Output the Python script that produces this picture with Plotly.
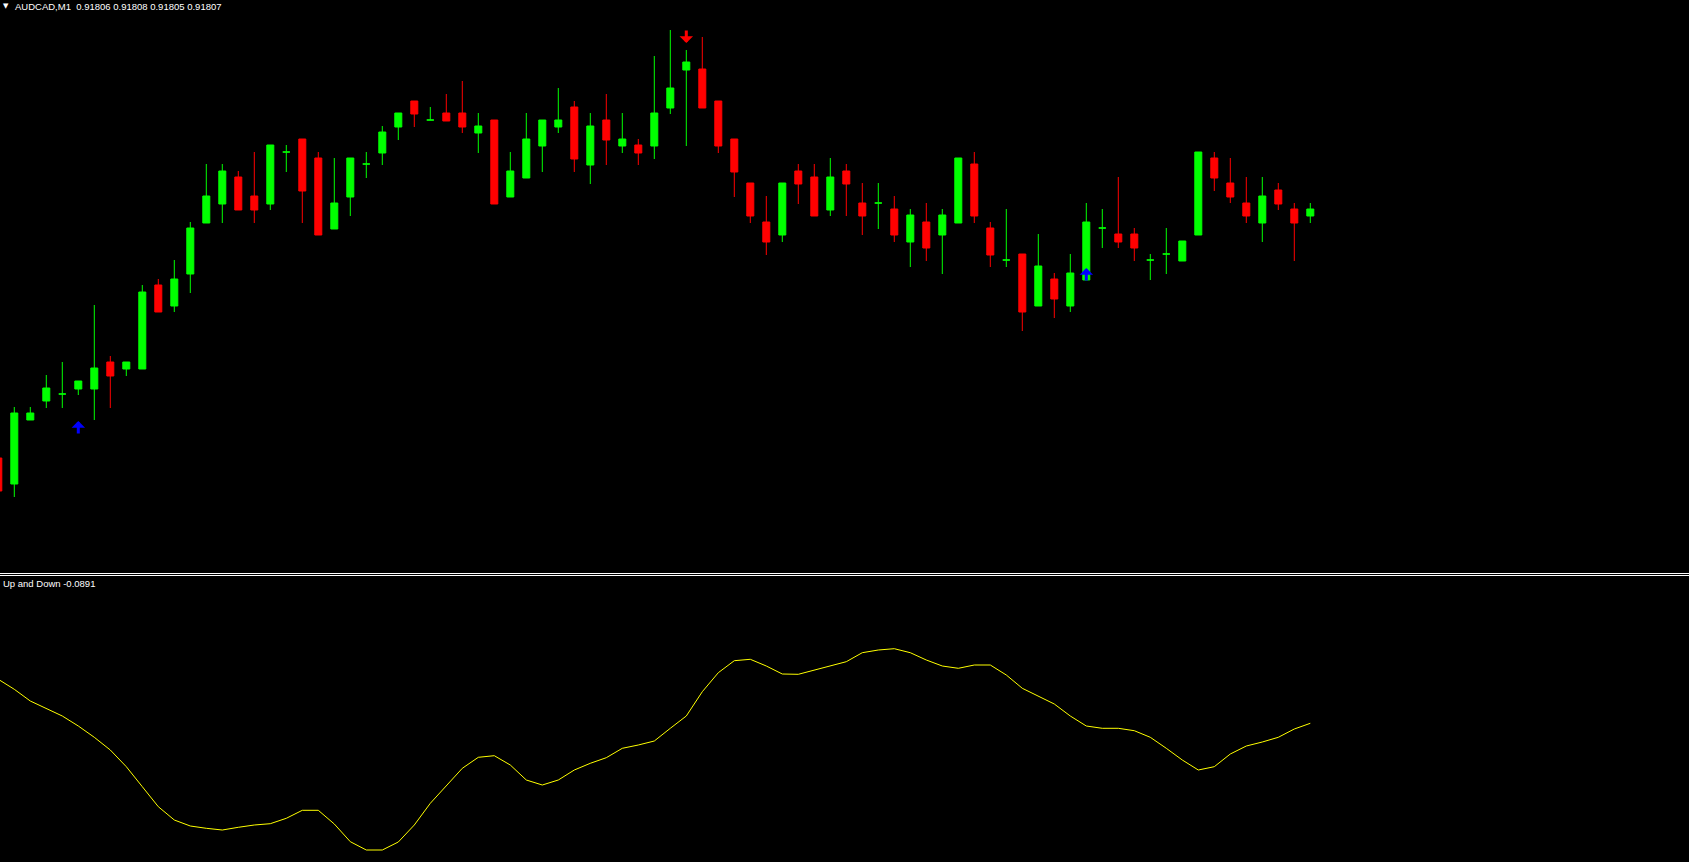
"""
AUDCAD M1 candles with buy/sell arrows and the "Up and Down" oscillator, MT4 style.
"""

import pandas as pd
import plotly.graph_objects as go

W, H = 1689, 862

symbol = "AUDCAD,M1"
last_bar = [0.91806, 0.91808, 0.91805, 0.91807]   # header O H L C
indicator_name = "Up and Down"

bar_index = list(range(-1, 82))

opens = [
    0.91558, 0.91532, 0.91596, 0.91615, 0.91622, 0.91627, 0.91627, 0.91654, 0.91647, 0.91647,
    0.91731, 0.91710, 0.91742, 0.91793, 0.91812, 0.91839, 0.91820, 0.91812, 0.91864, 0.91877,
    0.91858, 0.91787, 0.91819, 0.91852, 0.91863, 0.91889, 0.91915, 0.91896, 0.91903, 0.91903,
    0.91883, 0.91896, 0.91819, 0.91838, 0.91870, 0.91889, 0.91909, 0.91851, 0.91896, 0.91870,
    0.91871, 0.91870, 0.91908, 0.91946, 0.91947, 0.91915, 0.91877, 0.91833, 0.91794, 0.91781,
    0.91845, 0.91839, 0.91806, 0.91845, 0.91813, 0.91813, 0.91807, 0.91774, 0.91794, 0.91781,
    0.91793, 0.91852, 0.91788, 0.91756, 0.91762, 0.91710, 0.91737, 0.91710, 0.91736, 0.91788,
    0.91782, 0.91782, 0.91756, 0.91762, 0.91755, 0.91781, 0.91858, 0.91833, 0.91813, 0.91793,
    0.91826, 0.91807, 0.91800,
]
highs = [
    0.91560, 0.91609, 0.91609, 0.91641, 0.91654, 0.91635, 0.91711, 0.91660, 0.91654, 0.91731,
    0.91737, 0.91756, 0.91794, 0.91852, 0.91852, 0.91845, 0.91864, 0.91871, 0.91871, 0.91877,
    0.91864, 0.91858, 0.91858, 0.91864, 0.91890, 0.91903, 0.91915, 0.91909, 0.91922, 0.91935,
    0.91903, 0.91896, 0.91864, 0.91903, 0.91896, 0.91928, 0.91915, 0.91903, 0.91922, 0.91903,
    0.91877, 0.91960, 0.91986, 0.91966, 0.91979, 0.91915, 0.91877, 0.91833, 0.91820, 0.91833,
    0.91852, 0.91852, 0.91858, 0.91852, 0.91833, 0.91833, 0.91820, 0.91807, 0.91813, 0.91807,
    0.91858, 0.91864, 0.91794, 0.91807, 0.91762, 0.91782, 0.91743, 0.91762, 0.91813, 0.91807,
    0.91839, 0.91788, 0.91762, 0.91788, 0.91775, 0.91864, 0.91864, 0.91858, 0.91839, 0.91839,
    0.91833, 0.91813, 0.91813,
]
lows = [
    0.91523, 0.91519, 0.91596, 0.91608, 0.91608, 0.91621, 0.91596, 0.91608, 0.91640, 0.91647,
    0.91704, 0.91704, 0.91723, 0.91793, 0.91793, 0.91806, 0.91793, 0.91806, 0.91844, 0.91793,
    0.91781, 0.91787, 0.91800, 0.91838, 0.91851, 0.91876, 0.91889, 0.91896, 0.91895, 0.91883,
    0.91863, 0.91812, 0.91819, 0.91838, 0.91844, 0.91883, 0.91844, 0.91832, 0.91851, 0.91863,
    0.91851, 0.91857, 0.91902, 0.91870, 0.91908, 0.91863, 0.91819, 0.91793, 0.91761, 0.91774,
    0.91812, 0.91800, 0.91800, 0.91800, 0.91781, 0.91787, 0.91774, 0.91749, 0.91755, 0.91742,
    0.91793, 0.91793, 0.91749, 0.91749, 0.91685, 0.91710, 0.91698, 0.91704, 0.91736, 0.91768,
    0.91768, 0.91755, 0.91736, 0.91742, 0.91755, 0.91781, 0.91825, 0.91813, 0.91793, 0.91774,
    0.91806, 0.91755, 0.91793,
]
closes = [
    0.91525, 0.91603, 0.91603, 0.91628, 0.91622, 0.91635, 0.91648, 0.91640, 0.91654, 0.91724,
    0.91704, 0.91737, 0.91788, 0.91820, 0.91845, 0.91806, 0.91806, 0.91871, 0.91864, 0.91825,
    0.91781, 0.91813, 0.91858, 0.91852, 0.91884, 0.91903, 0.91902, 0.91896, 0.91895, 0.91889,
    0.91890, 0.91812, 0.91845, 0.91877, 0.91896, 0.91896, 0.91857, 0.91890, 0.91876, 0.91877,
    0.91863, 0.91903, 0.91928, 0.91954, 0.91908, 0.91870, 0.91844, 0.91800, 0.91774, 0.91833,
    0.91832, 0.91800, 0.91839, 0.91832, 0.91800, 0.91813, 0.91781, 0.91801, 0.91768, 0.91801,
    0.91858, 0.91800, 0.91761, 0.91756, 0.91704, 0.91750, 0.91717, 0.91743, 0.91794, 0.91788,
    0.91774, 0.91768, 0.91756, 0.91762, 0.91775, 0.91864, 0.91838, 0.91819, 0.91800, 0.91820,
    0.91812, 0.91793, 0.91807,
]

# oscillator value per bar
updown = [
    -0.0451, -0.0551, -0.0668, -0.0741, -0.0818, -0.0918, -0.1031, -0.1158, -0.1325, -0.1525,
    -0.1725, -0.1858, -0.1918, -0.1941, -0.1958, -0.1931, -0.1908, -0.1895, -0.1841, -0.1761,
    -0.1761, -0.1898, -0.2075, -0.2158, -0.2158, -0.2078, -0.1908, -0.1691, -0.1518, -0.1341,
    -0.1231, -0.1215, -0.1308, -0.1458, -0.1508, -0.1458, -0.1358, -0.1291, -0.1235, -0.1141,
    -0.1108, -0.1068, -0.0941, -0.0818, -0.0575, -0.0385, -0.0265, -0.0251, -0.0318, -0.0398,
    -0.0401, -0.0358, -0.0318, -0.0275, -0.0185, -0.0158, -0.0145, -0.0185, -0.0258, -0.0318,
    -0.0341, -0.0308, -0.0308, -0.0408, -0.0541, -0.0618, -0.0698, -0.0818, -0.0918, -0.0941,
    -0.0941, -0.0965, -0.1031, -0.1141, -0.1258, -0.1358, -0.1325, -0.1198, -0.1118, -0.1078,
    -0.1031, -0.0948, -0.0891,
]

buy_bars = [4, 67]
buy_levels = [0.91595, 0.91748]
sell_bars = [42]
sell_levels = [0.91973]

BULL = "#00FF00"
BEAR = "#FF0000"

df = pd.DataFrame(dict(bar=bar_index, open=opens, high=highs, low=lows, close=closes))
doji = df[df.open == df.close]
body = df[df.open != df.close]

fig = go.Figure()

# ── candles ───────────────────────────────────────────────────────────────
fig.add_trace(go.Candlestick(
    x=body.bar, open=body.open, high=body.high, low=body.low, close=body.close,
    increasing=dict(line=dict(color=BULL, width=1), fillcolor=BULL),
    decreasing=dict(line=dict(color=BEAR, width=1), fillcolor=BEAR),
    hoverinfo="skip",
))
# open == close bars are drawn in the bull colour, like the terminal does
fig.add_trace(go.Candlestick(
    x=doji.bar, open=doji.open, high=doji.high, low=doji.low, close=doji.close,
    increasing=dict(line=dict(color=BULL, width=1), fillcolor=BULL),
    decreasing=dict(line=dict(color=BULL, width=1), fillcolor=BULL),
    hoverinfo="skip",
))

# ── oscillator pane ───────────────────────────────────────────────────────
fig.add_trace(go.Scatter(
    x=bar_index, y=updown, mode="lines",
    line=dict(color="#FFFF00", width=1),
    xaxis="x2", yaxis="y2", hoverinfo="skip",
))

# ── signal arrows ─────────────────────────────────────────────────────────
arrow = dict(xref="x", yref="y", text="", showarrow=True, ax=0,
             arrowhead=1, arrowsize=0.75, arrowwidth=3)
for b, lvl in zip(buy_bars, buy_levels):
    fig.add_annotation(x=b, y=lvl, ay=14, arrowcolor="#0000FF", **arrow)
for b, lvl in zip(sell_bars, sell_levels):
    fig.add_annotation(x=b, y=lvl, ay=-14, arrowcolor=BEAR, **arrow)

# ── labels ────────────────────────────────────────────────────────────────
txt_font = dict(family="Liberation Sans", size=9.5, color="#FFFFFF")
header = symbol + "\u00a0\u00a0" + " ".join(f"{v:.5f}" for v in last_bar)
fig.add_annotation(x=13 / W, y=1 - 6.5 / H, xref="paper", yref="paper", text=header,
                   showarrow=False, xanchor="left", yanchor="middle", font=txt_font)
fig.add_annotation(x=1 / W, y=1 - 6 / H, xref="paper", yref="paper", text="▼",
                   showarrow=False, xanchor="left", yanchor="middle",
                   font=dict(family="DejaVu Sans", size=7, color="#FFFFFF"))
fig.add_annotation(x=1 / W, y=1 - 583 / H, xref="paper", yref="paper",
                   text=f"{indicator_name} {updown[-1]:.4f}",
                   showarrow=False, xanchor="left", yanchor="middle", font=txt_font)

# pane separator (double line)
for row in (573.5, 575.5):
    fig.add_shape(type="line", xref="paper", yref="paper", x0=0, x1=1,
                  y0=1 - row / H, y1=1 - row / H, line=dict(color="#FFFFFF", width=1))

x_range = [-14.3 / 16, (W - 14.3) / 16]
hidden = dict(showgrid=False, zeroline=False, showticklabels=False, showline=False, ticks="")

fig.update_layout(
    width=W, height=H,
    margin=dict(l=0, r=0, t=0, b=0),
    paper_bgcolor="#000000", plot_bgcolor="#000000",
    showlegend=False,
    boxgap=0.375,
    xaxis=dict(domain=[0, 1], range=x_range, rangeslider=dict(visible=False), anchor="y", **hidden),
    yaxis=dict(domain=[1 - 572 / H, 1], range=[0.91444, 0.92016], anchor="x", **hidden),
    xaxis2=dict(domain=[0, 1], range=x_range, anchor="y2", **hidden),
    yaxis2=dict(domain=[0, 1 - 576 / H], range=[-0.2278, 0.0582], anchor="x2", **hidden),
)

fig.write_html("out.html", config={"displayModeBar": False},
               post_script="document.body.style.margin='0';")
